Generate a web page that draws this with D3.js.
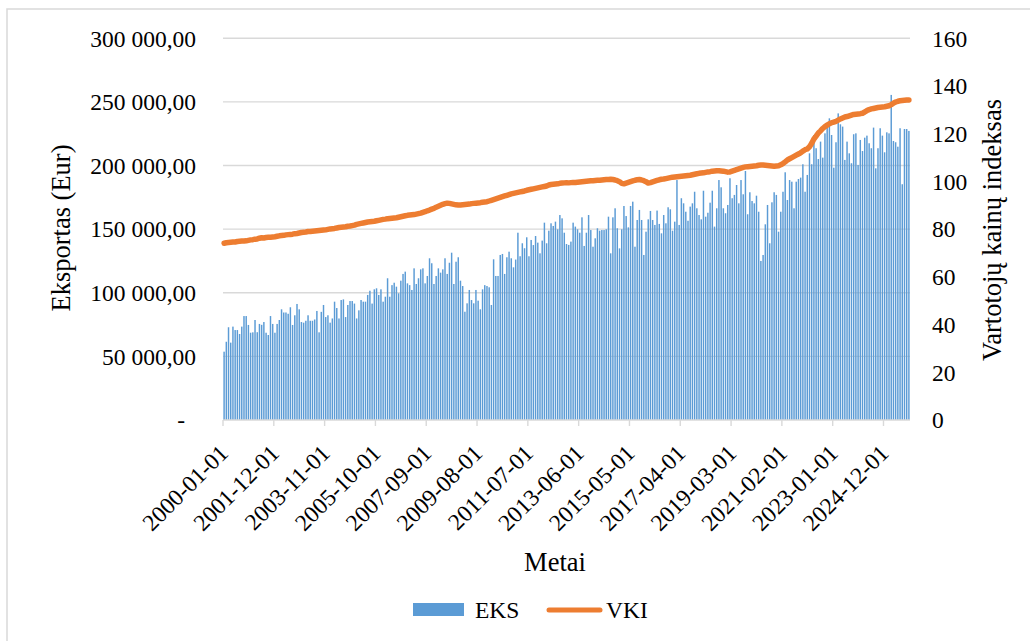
<!DOCTYPE html>
<html><head><meta charset="utf-8">
<script src="https://cdn.jsdelivr.net/npm/d3@7/dist/d3.min.js"></script>
</head><body style="margin:0;background:#fff">
<svg id="fig" width="1030" height="641" style="display:block"></svg>
<script>
// ---- DATA ----
const startYear = 2000;
const monthCount = 311; // 2000-01 ... 2025-11
const categories = [];
for (let i = 0; i < monthCount; i++) {
  const y = startYear + Math.floor(i / 12), m = (i % 12) + 1;
  categories.push(y + "-" + String(m).padStart(2, "0") + "-01");
}

// Export (EKS), thousand EUR
const eksThousands = [
  53.7,61.5,72.9,60.8,73.4,70.7,70.7,67.6,73.4,81.7,
  81.7,74.7,68.6,68.9,78.6,69,75.5,74.8,77,68.6,
  66.8,81.7,75.5,68.6,75.5,78.6,87,84.5,84.5,83.5,
  88.6,74.7,82.3,91.2,87,77,76.5,78,82.3,78,
  78,79,85.7,68.9,85,90.4,80.9,82.3,76.5,79.8,
  93,88,79.8,94.3,94.8,80.9,90.4,93.5,93.5,91.5,
  79.8,86.2,94.3,93,93,98.3,101.6,91.5,102.7,103.5,
  98.3,102.7,93,96.9,111.4,96.9,106,107.9,
  104.8,99.6,109.5,114.8,116.6,107.4,106,102.2,119.2,106.9,
  111.4,118.4,119.2,107.4,113.2,127.1,123.2,106.9,113.2,119.2,
  115.8,118.4,127.1,114.8,123.6,131.5,106.9,124.4,127.9,109.5,
  105.3,85.1,91.7,102.2,94.3,91.7,102.2,93.8,87,102.7,
  106,105.3,104.3,90.4,126.3,113.2,113.2,129.7,130.5,114.8,
  127.9,132.3,127.1,120,126.1,147.2,128.7,138.9,135,143.6,
  128.7,141.5,137.5,144.6,139.4,131,141,155.1,138.9,148.8,
  154.6,152.5,155.9,149.9,161.1,158.5,147.2,
  138.3,137.6,140.2,155.1,152,149.9,147.2,159.3,136.8,147.2,
  161.1,149.3,136.2,142.8,150.7,148.8,149.3,149.3,149.9,159.8,
  131,159.3,166.4,150.7,134.9,149.9,168.2,160.3,151.4,168.2,
  171.6,136.2,157.2,165.1,157.2,129.7,148,157.7,164.3,157.2,
  153.3,164.6,154.1,146.7,161.1,154.6,167.2,165.6,148.8,155.9,
  188.6,153.3,174.3,170.3,163.7,156.6,167.7,170.3,179.4,166.4,
  161.1,157.7,180.2,159.8,162.9,170.8,180.2,152,166.4,188.6,
  182.9,166.4,162.5,169,190,174.3,176.9,
  184.7,170.3,188.6,177.4,195.7,161.7,179,172.1,170.3,176.3,
  163.7,125,129.7,153.8,169,138.9,171.1,179,176.9,148,
  163.7,179.4,194.7,172.9,188.6,187.3,166.4,187.3,189.4,190.5,
  201,179.4,192.6,209.6,201,224,213.6,205.1,218.8,206.2,
  225.3,229.8,237.1,224,198.3,218.3,241,232.4,230.6,204.4,
  218.8,209.6,201.8,224.6,225.3,200.4,220.1,211.4,221.9,223.5,
  217.5,213.6,229.8,197.8,213.6,229.3,223.5,210.4,226.1,225.3,
  255.5,219.3,218.3,214.8,229.3,185.3,228.7,228.7,227.2
];

// Consumer price index (VKI)
const vki = [
  74.1,74.3,74.4,74.5,74.6,74.6,74.8,74.9,75.0,75.0,75.1,75.3,
  75.5,75.6,75.8,75.9,76.2,76.4,76.3,76.5,76.6,76.6,76.7,76.8,
  77.0,77.2,77.3,77.4,77.6,77.7,77.8,77.9,78.1,78.2,78.4,78.6,
  78.7,78.8,79.0,79.0,79.1,79.2,79.3,79.4,79.5,79.6,79.7,79.9,
  80.1,80.2,80.3,80.5,80.7,80.8,80.9,81.0,81.2,81.3,81.5,81.7,
  82.0,82.2,82.4,82.6,82.8,83.0,83.1,83.2,83.3,83.5,83.7,83.9,
  84.1,84.2,84.4,84.5,84.6,84.7,84.8,85.0,85.2,85.4,85.6,85.8,
  85.9,86.0,86.1,86.3,86.5,86.7,87.0,87.3,87.7,88.0,88.4,88.7,
  89.2,89.6,90.0,90.4,90.7,90.9,90.8,90.6,90.4,90.2,90.1,90.1,
  90.2,90.3,90.4,90.5,90.7,90.8,90.9,91.0,91.1,91.3,91.4,91.5,
  91.8,92.1,92.4,92.7,93.0,93.3,93.6,93.9,94.2,94.5,94.8,95.0,
  95.2,95.4,95.6,95.8,96.0,96.3,96.5,96.7,96.9,97.1,97.3,97.5,
  97.7,97.9,98.1,98.5,98.7,98.8,98.9,99.0,99.2,99.3,99.4,99.5,
  99.4,99.5,99.6,99.6,99.7,99.8,99.9,100.0,100.1,100.2,100.3,100.3,
  100.4,100.5,100.5,100.6,100.7,100.8,100.8,100.9,100.8,100.6,100.3,99.9,
  99.2,99.0,99.3,99.6,99.9,100.2,100.5,100.7,100.8,100.6,100.3,99.9,
  99.3,99.5,99.8,100.1,100.4,100.7,100.9,101.0,101.2,101.4,101.6,101.8,
  101.9,102.0,102.1,102.2,102.3,102.4,102.5,102.6,102.8,103.0,103.2,103.4,
  103.5,103.6,103.8,104.0,104.1,104.3,104.4,104.5,104.5,104.4,104.3,104.1,
  103.9,104.0,104.3,104.6,105.0,105.3,105.6,105.9,106.1,106.2,106.3,106.4,
  106.5,106.6,106.8,106.9,106.9,106.8,106.7,106.6,106.5,106.4,106.5,106.6,
  107.0,107.5,108.2,109.0,109.5,110.0,110.5,111.0,111.5,112.0,112.7,113.3,
  113.6,114.5,116.0,117.8,119.0,120.3,121.2,122.2,123.0,123.6,124.2,124.6,
  124.9,125.2,125.7,126.2,126.6,127.0,127.2,127.5,127.8,128.1,128.2,128.3,
  128.4,128.6,129.1,129.7,130.1,130.4,130.6,130.8,131.0,131.1,131.2,131.3,
  131.5,131.7,132.2,132.8,133.3,133.6,133.8,133.9,134.0,134.1,134.1
];

const xTickLabels = ["2000-01-01","2001-12-01","2003-11-01","2005-10-01","2007-09-01",
  "2009-08-01","2011-07-01","2013-06-01","2015-05-01","2017-04-01","2019-03-01",
  "2021-02-01","2023-01-01","2024-12-01"];
const leftTicks = [0, 50000, 100000, 150000, 200000, 250000, 300000];
const rightTicks = [0, 20, 40, 60, 80, 100, 120, 140, 160];
const seriesNames = ["EKS", "VKI"];
const axisTitles = {left: "Eksportas (Eur)", right: "Vartotojų kainų indeksas", x: "Metai"};

// ---- DRAW ----
const FONT = "Liberation Serif";
const TICK_FS = 23.5, TITLE_FS = 26.5;
const svg = d3.select("#fig");
const L = 223, R = 910, T = 38.3, B = 420;
const blue = "#5b9bd5", orange = "#ed7d31", grid = "#d9d9d9";

function label(sel) {
  return sel.attr("font-family", FONT).style("font-family", FONT).attr("fill", "#000");
}

svg.append("rect").attr("x", 7).attr("y", 9).attr("width", 1040).attr("height", 660)
  .attr("fill", "none").attr("stroke", grid).attr("stroke-width", 1.5);

const x = d3.scaleBand().domain(categories).range([L, R]).padding(0);
const yL = d3.scaleLinear().domain([0, 300000]).range([B, T]);
const yR = d3.scaleLinear().domain([0, 160]).range([B, T]);
const bw = x.bandwidth();

// gridlines
svg.append("g").selectAll("line").data(leftTicks.filter(d => d > 0)).join("line")
  .attr("x1", L).attr("x2", R).attr("y1", d => yL(d)).attr("y2", d => yL(d))
  .attr("stroke", grid).attr("stroke-width", 1.4);

// bars
const data = categories.map((c, i) => ({c, eks: eksThousands[i] * 1000, vki: vki[i]}));
svg.append("g").selectAll("rect").data(data).join("rect")
  .attr("x", d => x(d.c) + bw * 0.17).attr("width", bw * 0.66)
  .attr("y", d => yL(d.eks)).attr("height", d => B - yL(d.eks))
  .attr("fill", blue);

// x axis line + ticks
svg.append("line").attr("x1", L).attr("x2", R).attr("y1", B).attr("y2", B)
  .attr("stroke", grid).attr("stroke-width", 1.4);
svg.append("g").selectAll("line").data(xTickLabels).join("line")
  .attr("x1", d => x(d)).attr("x2", d => x(d)).attr("y1", B).attr("y2", B + 6)
  .attr("stroke", grid).attr("stroke-width", 1.4);
label(svg.append("g").selectAll("text").data(xTickLabels).join("text"))
  .attr("transform", d => `translate(${x(d) + 1},${449}) rotate(-45)`)
  .attr("text-anchor", "end").attr("dominant-baseline", "central")
  .attr("font-size", TICK_FS).text(d => d);

// line
const line = d3.line().x(d => x(d.c) + bw / 2).y(d => yR(d.vki));
svg.append("path").datum(data).attr("d", line).attr("fill", "none")
  .attr("stroke", orange).attr("stroke-width", 5.5).attr("stroke-linejoin", "round").attr("stroke-linecap", "round");

// left axis labels
const fmt = v => v === 0 ? "-" : d3.format(",.2f")(v).replace(/,/g, " ").replace(".", ",");
label(svg.append("g").selectAll("text").data(leftTicks).join("text"))
  .attr("x", d => d === 0 ? 185 : 196).attr("y", d => yL(d)).attr("dy", "0.35em")
  .attr("text-anchor", "end").attr("font-size", TICK_FS).text(fmt);

// right axis labels
label(svg.append("g").selectAll("text").data(rightTicks).join("text"))
  .attr("x", 932).attr("y", d => yR(d)).attr("dy", "0.35em")
  .attr("text-anchor", "start").attr("font-size", TICK_FS).text(d => d);

// axis titles
label(svg.append("text"))
  .attr("transform", "translate(61,228) rotate(-90)")
  .attr("text-anchor", "middle").attr("dominant-baseline", "central")
  .attr("font-size", TITLE_FS).text(axisTitles.left);
label(svg.append("text"))
  .attr("transform", "translate(992,230) rotate(-90)")
  .attr("text-anchor", "middle").attr("dominant-baseline", "central")
  .attr("font-size", TITLE_FS).text(axisTitles.right);
label(svg.append("text"))
  .attr("x", 555).attr("y", 571).attr("text-anchor", "middle")
  .attr("font-size", TITLE_FS).text(axisTitles.x);

// legend
const lg = svg.append("g");
lg.append("rect").attr("x", 413).attr("y", 603).attr("width", 51).attr("height", 13).attr("fill", blue);
label(lg.append("text")).attr("x", 475).attr("y", 617.5).attr("font-size", TICK_FS).text(seriesNames[0]);
lg.append("line").attr("x1", 549).attr("x2", 600).attr("y1", 610).attr("y2", 610)
  .attr("stroke", orange).attr("stroke-width", 5).attr("stroke-linecap", "round");
label(lg.append("text")).attr("x", 606).attr("y", 617.5).attr("font-size", TICK_FS).text(seriesNames[1]);
</script>
</body></html>
